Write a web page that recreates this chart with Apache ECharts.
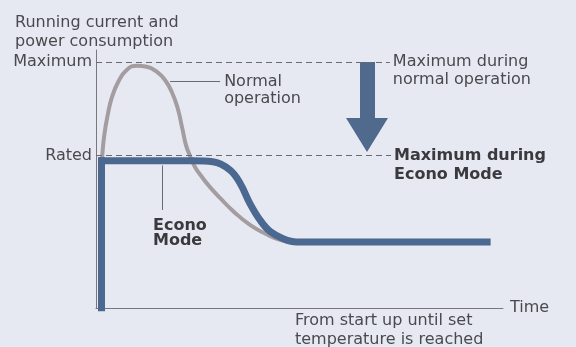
<!DOCTYPE html>
<html>
<head>
<meta charset="utf-8">
<script src="https://cdn.jsdelivr.net/npm/echarts@6/dist/echarts.min.js"></script>
<style>
  html, body { margin: 0; padding: 0; background: #e7e9f2; }
  #chart { width: 576px; height: 347px; }
</style>
</head>
<body>
<div id="chart"></div>
<script>
// levels on the power axis (0 = off, 100 = maximum during normal operation)
const levelMaximum = 100
const levelRated = 62
const levelLabels = { 100: 'Maximum', 62: 'Rated' }

// normal operation curve
const normalTime = [1.4, 1.55, 2.04, 2.87, 3.86, 5.48, 7.54, 10.0, 12.46, 14.91, 16.95, 18.6, 20.07, 21.2, 22.11, 23.1, 24.32, 26.04, 28.01, 30.47, 33.66, 37.84, 41.77, 45.21, 48.4]
const normalPower = [57, 62.3, 70.4, 78.5, 85.5, 92.1, 96.9, 98.6, 98.2, 96.2, 92.8, 88.0, 81.3, 73.1, 66.3, 61.9, 57.4, 53.3, 49.2, 44.8, 39.5, 33.8, 30.1, 27.7, 26.7]

// econo mode: start up (vertical) then the flat/drop/flat curve
const econoStartTime = [1.35, 1.35]
const econoStartPower = [0, 59.9]
const econoTime = [1.35, 24.0, 28.7, 32.9, 35.4, 37.8, 40.3, 42.8, 46.0, 49.3, 55.0, 96.1]
const econoPower = [59.9, 59.9, 59.5, 56.2, 50.8, 42.6, 35.8, 31.1, 28.2, 26.9, 26.9, 26.9]

const zip = (a, b) => a.map((v, i) => [v, b[i]])

const font = 'DejaVu Sans'
const textColor = '#4a4a4e'

let chart = echarts.init(document.getElementById('chart'))

let option = {
  backgroundColor: '#e7e9f2',
  animation: false,
  title: {
    text: 'Running current and\npower consumption',
    left: 10,
    top: 8,
    textStyle: { fontFamily: font, fontSize: 16, fontWeight: 'normal', color: textColor, lineHeight: 19 }
  },
  grid: { left: 96, right: 73, top: 50, bottom: 39 },
  xAxis: {
    type: 'value',
    min: 0,
    max: 100,
    name: 'Time',
    nameLocation: 'end',
    nameGap: 7,
    nameTextStyle: { fontFamily: font, fontSize: 16, color: textColor },
    axisLine: { lineStyle: { color: '#77777d', width: 1 } },
    axisTick: { show: false },
    axisLabel: { show: false },
    splitLine: { show: false }
  },
  yAxis: {
    type: 'value',
    min: 0,
    max: 105,
    axisLine: { show: true, lineStyle: { color: '#77777d', width: 1 } },
    axisTick: { show: false },
    axisLabel: {
      customValues: [levelRated, levelMaximum],
      formatter: v => levelLabels[v] || '',
      margin: 4,
      fontFamily: font,
      fontSize: 16,
      color: textColor
    },
    splitLine: { show: false }
  },
  series: [
    {
      name: 'Normal operation',
      type: 'line',
      data: zip(normalTime, normalPower),
      smooth: 0.5,
      symbol: 'none',
      z: 2,
      lineStyle: { color: '#a39da2', width: 4 },
      markLine: {
        silent: true,
        symbol: 'none',
        animation: false,
        lineStyle: { color: '#6a6a70', width: 1, type: [6, 4] },
        label: { fontFamily: font, fontSize: 16, color: textColor, lineHeight: 18 },
        data: [
          [
            { coord: [0, levelMaximum], label: { position: 'end', distance: 3, formatter: '\nMaximum during\nnormal operation' } },
            { coord: [72.2, levelMaximum] }
          ],
          [
            { coord: [0, levelRated], label: { position: 'end', distance: 3, fontWeight: 'bold', color: '#3a3a3e', lineHeight: 19, formatter: '\nMaximum during\nEcono Mode' } },
            { coord: [72.5, levelRated] }
          ],
          [
            { coord: [18.2, 92.1], lineStyle: { type: 'solid', color: '#6a6a70' }, label: { position: 'end', distance: 4, lineHeight: 17, formatter: '\nNormal\noperation' } },
            { coord: [30.5, 92.1] }
          ],
          [
            { coord: [16.2, 58], lineStyle: { type: 'solid', color: '#6a6a70' }, label: { show: false } },
            { coord: [16.2, 39.9] }
          ]
        ]
      }
    },
    {
      name: 'Econo Mode start',
      type: 'line',
      data: zip(econoStartTime, econoStartPower),
      symbol: 'none',
      z: 3,
      lineStyle: { color: '#4b6890', width: 7, cap: 'square' }
    },
    {
      name: 'Econo Mode',
      type: 'line',
      data: zip(econoTime, econoPower),
      smooth: 0.4,
      symbol: 'none',
      z: 3,
      lineStyle: { color: '#4b6890', width: 7, cap: 'square' }
    }
  ],
  graphic: [
    {
      type: 'text',
      left: 153,
      top: 218,
      style: { text: 'Econo\nMode', font: 'bold 16px DejaVu Sans', fill: '#3a3a3e', lineHeight: 15 }
    },
    {
      type: 'text',
      left: 295,
      top: 311,
      style: { text: 'From start up until set\ntemperature is reached', font: '16px DejaVu Sans', fill: textColor, lineHeight: 19 }
    },
    {
      type: 'polygon',
      shape: { points: [[360, 62], [375, 62], [375, 118], [388, 118], [367, 152], [346, 118], [360, 118]] },
      style: { fill: '#4f6a8c' }
    }
  ]
}

chart.setOption(option)
</script>
</body>
</html>
